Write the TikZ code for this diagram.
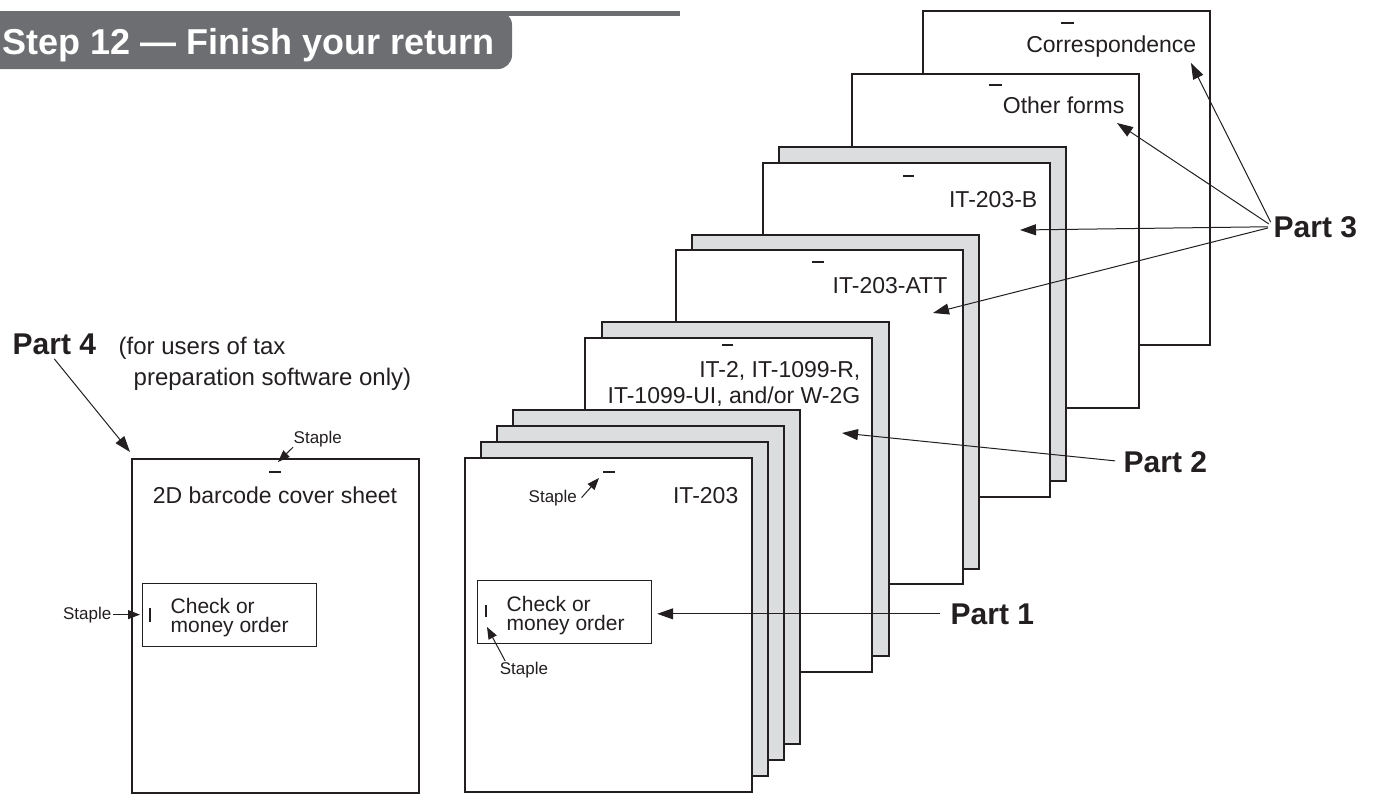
\documentclass[tikz,border=0pt]{standalone}
\usepackage{fontspec}
\setmainfont{Liberation Sans}
\usetikzlibrary{arrows.meta}
\definecolor{bargray}{HTML}{6D6E71}
\definecolor{sheetgray}{HTML}{DCDDDF}
\definecolor{inkcolor}{HTML}{231F20}

\begin{document}
\begin{tikzpicture}[
    x=0.5pt, y=-0.5pt,
    line width=0.7pt,
    color=inkcolor,
    >={Triangle[length=8pt, width=5.5pt]},
    sheet/.style={draw=inkcolor, fill=white},
    backsheet/.style={draw=inkcolor, fill=sheetgray},
    staplebar/.style={line width=1pt},
    pointer/.style={->, line width=0.5pt, shorten <=2.5pt},
    stapleptr/.style={->, line width=0.5pt, >={Triangle[length=6pt, width=4.5pt]}},
    formname/.style={inner sep=0pt, anchor=base east, font=\fontsize{11.5}{13}\selectfont},
    checkbox/.style={draw=inkcolor, fill=white, line width=0.6pt, inner sep=0pt,
        minimum width=87pt, minimum height=31.5pt, anchor=north west},
    checktext/.style={inner sep=0pt, anchor=base west, align=left, font=\fontsize{10.5}{9.5}\selectfont},
    staplename/.style={inner sep=0pt, font=\fontsize{8.5}{10}\selectfont},
    partname/.style={inner sep=0pt, anchor=base west, font=\fontsize{15}{18}\selectfont\bfseries}
]

    % Page is 1377 x 793 units, y runs downwards
    \useasboundingbox (0,0) rectangle (1377,793);

    % 1. Header bar
    \fill[bargray] (0,11) rectangle (680,16);
    \fill[bargray, rounded corners=7pt] (-30,11) rectangle (512,69);
    \node[anchor=base west, inner sep=0pt, text=white, font=\fontsize{18}{20}\selectfont\bfseries] (title) at (2,54) {Step 12 — Finish your return};

    % 2. Part 3 forms (back to front)
    \draw[sheet] (923,11) rectangle ++(287,334);
    \draw[staplebar] (1061,23) -- (1074,23);
    \node[formname] (corr) at (1197,52) {Correspondence};

    \draw[sheet] (852,74) rectangle ++(287,334);
    \draw[staplebar] (989,85) -- (1002,85);
    \node[formname] (other) at (1125,113) {Other forms};

    \draw[backsheet] (779,147) rectangle ++(287,334);
    \draw[sheet] (763,163) rectangle ++(287,334);
    \draw[staplebar] (903,176) -- (914,176);
    \node[formname] (itb) at (1038,207) {IT-203-B};

    \draw[backsheet] (692,235) rectangle ++(287,334);
    \draw[sheet] (676,250) rectangle ++(287,334);
    \draw[staplebar] (812,262) -- (824,262);
    \node[formname] (itatt) at (948,293) {IT-203-ATT};

    % 3. Part 2 forms
    \draw[backsheet] (602,322) rectangle ++(287,334);
    \draw[sheet] (585,338) rectangle ++(287,334);
    \draw[staplebar] (722,345) -- (733,345);
    % base anchor of a two-line node sits on its last line
    \node[formname, align=right] (itwo) at (861,403) {IT-2, IT-1099-R,\\IT-1099-UI, and/or W-2G};

    % 4. Part 1 stack
    \foreach \d in {48,32,16} {
        \draw[backsheet] (465+\d,458-\d) rectangle ++(287,334);
    }
    \draw[sheet] (465,458) rectangle ++(287,334);
    \draw[staplebar] (603,472) -- (615,472);
    \node[formname] (itmain) at (739,503) {IT-203};
    \node[checkbox] (mainchk) at (477,580) {};
    \node[checktext] (mainchktext) at (506,630) {Check or\\money order};
    \draw[line width=0.6pt] (486,605) -- (486,617);

    % 5. Part 4 cover sheet
    \draw[sheet] (132,459) rectangle ++(287,334);
    \draw[staplebar] (269,472) -- (281,472);
    \node[inner sep=0pt, anchor=base, font=\fontsize{11.5}{13}\selectfont] (cover) at (275,503) {2D barcode cover sheet};
    \node[checkbox] (coverchk) at (142,583) {};
    \node[checktext] (coverchktext) at (170,632) {Check or\\money order};
    \draw[line width=0.6pt] (150,608) -- (150,622);

    % 6. Staple labels
    \node[staplename, anchor=base west] (staplea) at (293,443) {Staple};
    \coordinate (staplea tip) at (278,462);
    \draw[stapleptr] (staplea.south west) -- (staplea tip);

    \node[staplename, anchor=base east] (stapleb) at (112,619) {Staple};
    \draw[stapleptr] ([xshift=0.5pt]stapleb.east) -- ([xshift=-1pt]stapleb.east -| coverchk.west);

    \node[staplename, anchor=base west] (staplec) at (528,502) {Staple};
    \coordinate (staplec tip) at (599,478);
    \draw[stapleptr] ([xshift=2pt]staplec.east) -- (staplec tip);

    \node[staplename, anchor=base] (stapled) at (524,674) {Staple};
    \coordinate (stapled tip) at (487,627);
    \draw[stapleptr] ([xshift=3pt]stapled.north west) -- (stapled tip);

    % 7. Part labels and pointers
    \node[partname] (part3) at (1273,237) {Part 3};
    \coordinate (corr tip) at (1191,63);
    \coordinate (other tip) at (1117,123);
    \coordinate (itb tip) at (1020,230);
    \coordinate (itatt tip) at (933,313);
    \foreach \t in {corr tip, other tip, itb tip, itatt tip} {
        \draw[pointer] (part3.west) -- (\t);
    }

    \node[partname] (part2) at (1123,472) {Part 2};
    \coordinate (itwo tip) at (842,433);
    \draw[pointer, shorten <=4pt] (part2.west) -- (itwo tip);

    \node[partname] (part1) at (950,624) {Part 1};
    \draw[pointer, shorten <=5pt] (part1.west) -- ([xshift=2.5pt]part1.west -| mainchk.east);

    \node[partname] (part4) at (12,354) {Part 4};
    \node[inner sep=0pt, anchor=base west, align=left, font=\fontsize{12}{15.5}\selectfont] (part4note) at (118,385) {(for users of tax\\\hspace*{7.5pt}preparation software only)};
    \coordinate (cover tip) at (130,452);
    \draw[pointer, shorten <=0pt] ([yshift=-2pt]part4.south) -- (cover tip);

\end{tikzpicture}
\end{document}
